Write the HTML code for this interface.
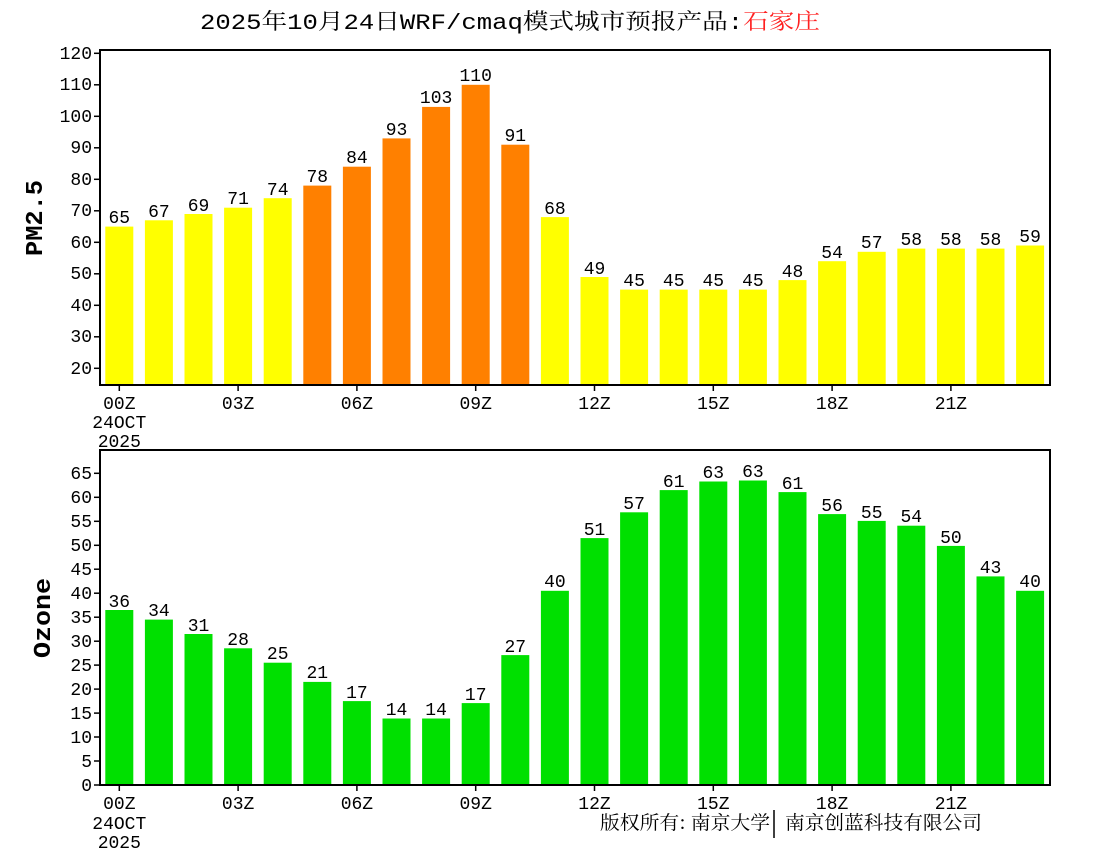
<!DOCTYPE html>
<html><head><meta charset="utf-8"><style>
body{margin:0;background:#fff;}
svg{display:block;font-family:"Liberation Mono","Noto Serif CJK SC",monospace;}
</style></head><body>
<svg width="1100" height="850" viewBox="0 0 1100 850" xmlns="http://www.w3.org/2000/svg">
<rect width="1100" height="850" fill="#fff"/>
<text x="200" y="29" font-size="22" textLength="620" lengthAdjust="spacingAndGlyphs" font-family="'Liberation Mono','Noto Serif CJK SC',monospace">2025年10月24日WRF/cmaq模式城市预报产品:<tspan fill="#ff2020">石家庄</tspan></text>

<g id="top">
<g fill="#ffff00">
<rect x="105.3" y="226.6" width="28" height="158.4"/>
<rect x="144.9" y="220.3" width="28" height="164.7"/>
<rect x="184.5" y="214.0" width="28" height="171"/>
<rect x="224.1" y="207.7" width="28" height="177.3"/>
<rect x="263.7" y="198.2" width="28" height="186.8"/>
<rect x="540.9" y="217.1" width="28" height="167.9"/>
<rect x="580.5" y="277.0" width="28" height="108"/>
<rect x="620.1" y="289.6" width="28" height="95.4"/>
<rect x="659.7" y="289.6" width="28" height="95.4"/>
<rect x="699.3" y="289.6" width="28" height="95.4"/>
<rect x="738.9" y="289.6" width="28" height="95.4"/>
<rect x="778.5" y="280.1" width="28" height="104.9"/>
<rect x="818.1" y="261.2" width="28" height="123.8"/>
<rect x="857.7" y="251.8" width="28" height="133.2"/>
<rect x="897.3" y="248.6" width="28" height="136.4"/>
<rect x="936.9" y="248.6" width="28" height="136.4"/>
<rect x="976.5" y="248.6" width="28" height="136.4"/>
<rect x="1016.1" y="245.5" width="28" height="139.5"/>
</g>
<g fill="#ff8000">
<rect x="303.3" y="185.6" width="28" height="199.4"/>
<rect x="342.9" y="166.7" width="28" height="218.3"/>
<rect x="382.5" y="138.4" width="28" height="246.6"/>
<rect x="422.1" y="106.9" width="28" height="278.1"/>
<rect x="461.7" y="84.8" width="28" height="300.2"/>
<rect x="501.3" y="144.7" width="28" height="240.3"/>
</g>
<rect x="100" y="50" width="950" height="335" fill="none" stroke="#000" stroke-width="2"/>
<g font-size="18" text-anchor="middle">
<text x="119.3" y="223">65</text><text x="158.9" y="217">67</text><text x="198.5" y="211">69</text><text x="238.1" y="204">71</text><text x="277.7" y="195">74</text><text x="317.3" y="182">78</text><text x="356.9" y="163">84</text><text x="396.5" y="135">93</text><text x="436.1" y="103">103</text><text x="475.7" y="81">110</text><text x="515.3" y="141">91</text><text x="554.9" y="214">68</text><text x="594.5" y="274">49</text><text x="634.1" y="286">45</text><text x="673.7" y="286">45</text><text x="713.3" y="286">45</text><text x="752.9" y="286">45</text><text x="792.5" y="277">48</text><text x="832.1" y="258">54</text><text x="871.7" y="248">57</text><text x="911.3" y="245">58</text><text x="950.9" y="245">58</text><text x="990.5" y="245">58</text><text x="1030.1" y="242">59</text>
</g>
<g stroke="#000" stroke-width="1.5">
<line x1="94" y1="368.3" x2="100" y2="368.3"/><line x1="94" y1="336.8" x2="100" y2="336.8"/><line x1="94" y1="305.3" x2="100" y2="305.3"/><line x1="94" y1="273.8" x2="100" y2="273.8"/><line x1="94" y1="242.3" x2="100" y2="242.3"/><line x1="94" y1="210.8" x2="100" y2="210.8"/><line x1="94" y1="179.3" x2="100" y2="179.3"/><line x1="94" y1="147.8" x2="100" y2="147.8"/><line x1="94" y1="116.3" x2="100" y2="116.3"/><line x1="94" y1="84.8" x2="100" y2="84.8"/><line x1="94" y1="53.3" x2="100" y2="53.3"/>
<line x1="119.3" y1="385" x2="119.3" y2="391"/><line x1="238.1" y1="385" x2="238.1" y2="391"/><line x1="356.9" y1="385" x2="356.9" y2="391"/><line x1="475.7" y1="385" x2="475.7" y2="391"/><line x1="594.5" y1="385" x2="594.5" y2="391"/><line x1="713.3" y1="385" x2="713.3" y2="391"/><line x1="832.1" y1="385" x2="832.1" y2="391"/><line x1="950.9" y1="385" x2="950.9" y2="391"/>
</g>
<g font-size="18" text-anchor="end">
<text x="92" y="374">20</text><text x="92" y="342">30</text><text x="92" y="311">40</text><text x="92" y="279">50</text><text x="92" y="248">60</text><text x="92" y="216">70</text><text x="92" y="185">80</text><text x="92" y="153">90</text><text x="92" y="122">100</text><text x="92" y="90">110</text><text x="92" y="59">120</text>
</g>
<g font-size="18" text-anchor="middle">
<text x="119.3" y="409">00Z</text><text x="119.3" y="428">24OCT</text><text x="119.3" y="447">2025</text>
<text x="238.1" y="409">03Z</text><text x="356.9" y="409">06Z</text><text x="475.7" y="409">09Z</text><text x="594.5" y="409">12Z</text><text x="713.3" y="409">15Z</text><text x="832.1" y="409">18Z</text><text x="950.9" y="409">21Z</text>
</g>
<text transform="translate(42,218) rotate(-90)" font-size="24" font-weight="bold" text-anchor="middle" textLength="76" lengthAdjust="spacingAndGlyphs">PM2.5</text>
</g>

<g id="bot">
<g fill="#00e000">
<rect x="105.3" y="610.0" width="28" height="175"/>
<rect x="144.9" y="619.6" width="28" height="165.4"/>
<rect x="184.5" y="634.0" width="28" height="151"/>
<rect x="224.1" y="648.3" width="28" height="136.7"/>
<rect x="263.7" y="662.7" width="28" height="122.3"/>
<rect x="303.3" y="681.9" width="28" height="103.1"/>
<rect x="342.9" y="701.1" width="28" height="83.9"/>
<rect x="382.5" y="718.5" width="28" height="66.5"/>
<rect x="422.1" y="718.5" width="28" height="66.5"/>
<rect x="461.7" y="703.1" width="28" height="81.9"/>
<rect x="501.3" y="655.1" width="28" height="129.9"/>
<rect x="540.9" y="590.8" width="28" height="194.2"/>
<rect x="580.5" y="538.1" width="28" height="246.9"/>
<rect x="620.1" y="512.3" width="28" height="272.7"/>
<rect x="659.7" y="490.1" width="28" height="294.9"/>
<rect x="699.3" y="481.5" width="28" height="303.5"/>
<rect x="738.9" y="480.5" width="28" height="304.5"/>
<rect x="778.5" y="492.1" width="28" height="292.9"/>
<rect x="818.1" y="514.1" width="28" height="270.9"/>
<rect x="857.7" y="520.9" width="28" height="264.1"/>
<rect x="897.3" y="525.7" width="28" height="259.3"/>
<rect x="936.9" y="545.9" width="28" height="239.1"/>
<rect x="976.5" y="576.4" width="28" height="208.6"/>
<rect x="1016.1" y="590.8" width="28" height="194.2"/>
</g>
<rect x="100" y="450" width="950" height="335" fill="none" stroke="#000" stroke-width="2"/>
<g font-size="18" text-anchor="middle">
<text x="119.3" y="607">36</text><text x="158.9" y="616">34</text><text x="198.5" y="631">31</text><text x="238.1" y="645">28</text><text x="277.7" y="659">25</text><text x="317.3" y="678">21</text><text x="356.9" y="698">17</text><text x="396.5" y="715">14</text><text x="436.1" y="715">14</text><text x="475.7" y="700">17</text><text x="515.3" y="652">27</text><text x="554.9" y="587">40</text><text x="594.5" y="535">51</text><text x="634.1" y="509">57</text><text x="673.7" y="487">61</text><text x="713.3" y="478">63</text><text x="752.9" y="477">63</text><text x="792.5" y="489">61</text><text x="832.1" y="511">56</text><text x="871.7" y="518">55</text><text x="911.3" y="522">54</text><text x="950.9" y="543">50</text><text x="990.5" y="573">43</text><text x="1030.1" y="587">40</text>
</g>
<g stroke="#000" stroke-width="1.5">
<line x1="94" y1="785" x2="100" y2="785"/><line x1="94" y1="761" x2="100" y2="761"/><line x1="94" y1="737" x2="100" y2="737"/><line x1="94" y1="713.1" x2="100" y2="713.1"/><line x1="94" y1="689.1" x2="100" y2="689.1"/><line x1="94" y1="665.1" x2="100" y2="665.1"/><line x1="94" y1="641.2" x2="100" y2="641.2"/><line x1="94" y1="617.2" x2="100" y2="617.2"/><line x1="94" y1="593.2" x2="100" y2="593.2"/><line x1="94" y1="569.2" x2="100" y2="569.2"/><line x1="94" y1="545.3" x2="100" y2="545.3"/><line x1="94" y1="521.3" x2="100" y2="521.3"/><line x1="94" y1="497.3" x2="100" y2="497.3"/><line x1="94" y1="473.3" x2="100" y2="473.3"/>
<line x1="119.3" y1="785" x2="119.3" y2="791"/><line x1="238.1" y1="785" x2="238.1" y2="791"/><line x1="356.9" y1="785" x2="356.9" y2="791"/><line x1="475.7" y1="785" x2="475.7" y2="791"/><line x1="594.5" y1="785" x2="594.5" y2="791"/><line x1="713.3" y1="785" x2="713.3" y2="791"/><line x1="832.1" y1="785" x2="832.1" y2="791"/><line x1="950.9" y1="785" x2="950.9" y2="791"/>
</g>
<g font-size="18" text-anchor="end">
<text x="92" y="791">0</text><text x="92" y="767">5</text><text x="92" y="743">10</text><text x="92" y="719">15</text><text x="92" y="695">20</text><text x="92" y="671">25</text><text x="92" y="647">30</text><text x="92" y="623">35</text><text x="92" y="599">40</text><text x="92" y="575">45</text><text x="92" y="551">50</text><text x="92" y="527">55</text><text x="92" y="503">60</text><text x="92" y="479">65</text>
</g>
<g font-size="18" text-anchor="middle">
<text x="119.3" y="809">00Z</text><text x="119.3" y="829">24OCT</text><text x="119.3" y="848">2025</text>
<text x="238.1" y="809">03Z</text><text x="356.9" y="809">06Z</text><text x="475.7" y="809">09Z</text><text x="594.5" y="809">12Z</text><text x="713.3" y="809">15Z</text><text x="832.1" y="809">18Z</text><text x="950.9" y="809">21Z</text>
</g>
<text transform="translate(50,618) rotate(-90)" font-size="24" font-weight="bold" text-anchor="middle" textLength="80" lengthAdjust="spacingAndGlyphs">Ozone</text>
<text x="600" y="829" font-size="19" textLength="170" lengthAdjust="spacingAndGlyphs" font-family="'Noto Serif CJK SC','Noto Sans CJK SC',serif">版权所有: 南京大学</text>
<line x1="774" y1="810" x2="774" y2="838" stroke="#000" stroke-width="1.5"/>
<text x="785" y="829" font-size="19" textLength="197" lengthAdjust="spacingAndGlyphs" font-family="'Noto Serif CJK SC','Noto Sans CJK SC',serif">南京创蓝科技有限公司</text>
</g>
</svg>
</body></html>
